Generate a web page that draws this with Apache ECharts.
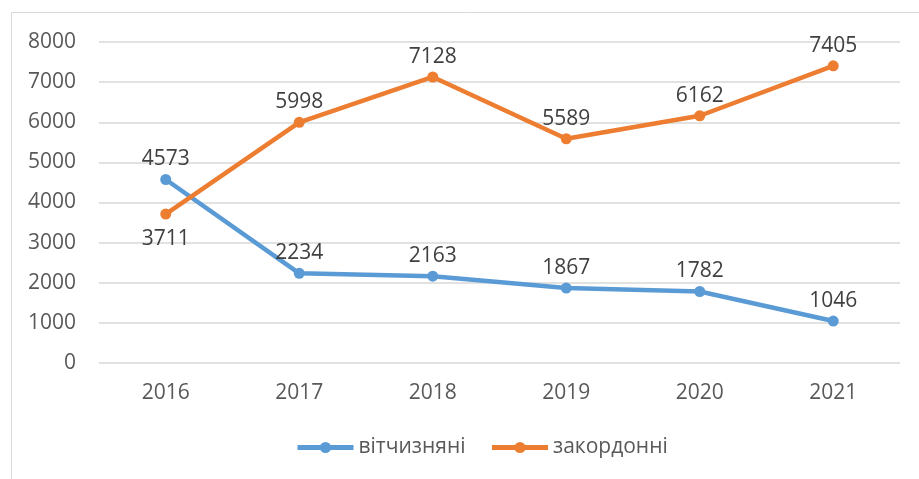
<!DOCTYPE html>
<html lang="uk">
<head>
<meta charset="utf-8">
<script src="https://cdn.jsdelivr.net/npm/echarts@6/dist/echarts.min.js"></script>
<style>
    html, body { margin: 0; padding: 0; background: #fff; }
    #main { width: 919px; height: 479px; }
</style>
</head>
<body>
<div id="main"></div>
<script>
    var years = ['2016', '2017', '2018', '2019', '2020', '2021'];
    var domestic = [4573, 2234, 2163, 1867, 1782, 1046];
    var foreign = [3711, 5998, 7128, 5589, 6162, 7405];
    var seriesNames = ['вітчизняні', 'закордонні'];

    var font = '"Open Sans", "Liberation Sans", sans-serif';
    var chart = echarts.init(document.getElementById('main'));

    function lineSeries(name, data, color) {
        return {
            name: name,
            type: 'line',
            data: data,
            symbol: 'circle',
            symbolSize: 11,
            lineStyle: { width: 4.5, color: color },
            itemStyle: { color: color },
            label: {
                show: true,
                position: 'top',
                distance: 4,
                color: '#404040',
                fontFamily: font,
                fontSize: 21
            },
            animation: false
        };
    }

    var orange = lineSeries(seriesNames[1], foreign, '#ED7D31');
    // first point label sits under the marker
    orange.data = foreign.map(function (v, i) {
        return i === 0 ? { value: v, label: { position: 'bottom', distance: 9 } } : v;
    });

    chart.setOption({
        backgroundColor: '#fff',
        graphic: [{
            type: 'rect',
            shape: { x: 11.5, y: 12.5, width: 1000, height: 1000 },
            style: { fill: 'none', stroke: '#d9d9d9', lineWidth: 1 },
            silent: true
        }],
        grid: { left: 99, right: 19, top: 42, bottom: 116 },
        legend: {
            data: seriesNames,
            bottom: 16,
            left: 290,
            itemWidth: 56,
            itemHeight: 14,
            itemGap: 24,
            lineStyle: { width: 5 },
            textStyle: { color: '#595959', fontFamily: font, fontSize: 21 }
        },
        xAxis: {
            type: 'category',
            data: years,
            boundaryGap: true,
            axisLine: { show: false },
            axisTick: { show: false },
            axisLabel: { color: '#595959', fontFamily: font, fontSize: 21, margin: 20 }
        },
        yAxis: {
            type: 'value',
            min: 0,
            max: 8000,
            interval: 1000,
            axisLine: { show: false },
            axisTick: { show: false },
            splitLine: { lineStyle: { color: '#d9d9d9', width: 1.5 } },
            axisLabel: {
                color: '#595959', fontFamily: font, fontSize: 21, margin: 23,
                formatter: function (v) { return String(v); }
            }
        },
        series: [
            lineSeries(seriesNames[0], domestic, '#5B9BD5'),
            orange
        ]
    });
</script>
</body>
</html>
